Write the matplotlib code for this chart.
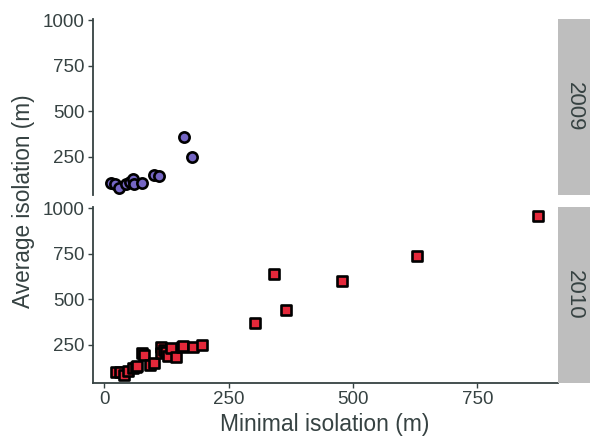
import matplotlib
matplotlib.use("Agg")
import matplotlib.pyplot as plt

plt.rcParams['font.family'] = ['Liberation Sans', 'DejaVu Sans']

years = ["2009", "2010"]

x_2009 = [14, 22, 30, 44, 52, 57, 60, 76, 101, 110, 160, 177]
y_2009 = [108, 98, 80, 100, 110, 126, 100, 104, 150, 145, 360, 250]

x_2010 = [24, 32, 40, 47, 57, 65, 67, 77, 81, 92, 100, 114, 114, 120, 124, 128, 135, 145,
          157, 159, 179, 196, 304, 341, 365, 478, 628, 872]
y_2010 = [102, 100, 86, 106, 121, 126, 134, 207, 194, 139, 150, 240, 203, 220, 213, 189, 230, 185,
          236, 244, 240, 249, 367, 637, 442, 602, 737, 956]

x_ticks = [0, 250, 500, 750]
y_ticks = [250, 500, 750, 1000]

TXT = "#364242"
AX = "#364242"
PURPLE = "#7566C4"
RED = "#E4283A"
STRIP = "#BEBEBE"

fig = plt.figure(figsize=(5.9, 4.36), dpi=100)
W, H = 590, 436

def axrect(l, t, r, b):
    return [l / W, 1 - b / H, (r - l) / W, (b - t) / H]

ax1 = fig.add_axes(axrect(92.7, 19, 558, 195))
ax2 = fig.add_axes(axrect(92.7, 207, 558, 383))

ax1.scatter(x_2009, y_2009, s=7.4**2, marker='o', facecolor=PURPLE, edgecolor='black',
            linewidths=1.9, zorder=3, clip_on=False)
ax2.scatter(x_2010, y_2010, s=7.0**2, marker='s', facecolor=RED, edgecolor='black',
            linewidths=1.9, zorder=3, clip_on=False)

for ax in (ax1, ax2):
    ax.set_xlim(-23, 912)
    ax.set_ylim(40, 1007)
    ax.set_yticks(y_ticks)
    ax.set_xticks(x_ticks)
    for s in ('top', 'right'):
        ax.spines[s].set_visible(False)
    ax.spines['left'].set_color(AX)
    ax.spines['left'].set_linewidth(1.3)
    ax.spines['bottom'].set_color(AX)
    ax.spines['bottom'].set_linewidth(1.3)
    ax.tick_params(axis='both', colors=AX, labelcolor=TXT, labelsize=13.5,
                   length=3.5, width=1.0, pad=2.5)

ax1.spines['bottom'].set_visible(False)
ax1.tick_params(axis='x', bottom=False, labelbottom=False)

# strips
for (t, b), lab in zip([(19, 195), (207, 383)], years):
    sax = fig.add_axes(axrect(558.3, t, 590, b))
    sax.set_facecolor(STRIP)
    for s in sax.spines.values():
        s.set_visible(False)
    sax.set_xticks([])
    sax.set_yticks([])
    sax.text(0.5, 0.5, lab, rotation=-90, ha='center', va='center', fontsize=16,
             color=TXT, transform=sax.transAxes)

fig.text(24 / W, 1 - 201 / H, "Average isolation (m)", rotation=90, ha='center', va='center',
         fontsize=16.3, color=TXT)
fig.text(325 / W, 1 - 424 / H, "Minimal isolation (m)", ha='center', va='center',
         fontsize=16.5, color=TXT)

fig.savefig("out.png", dpi=100)
